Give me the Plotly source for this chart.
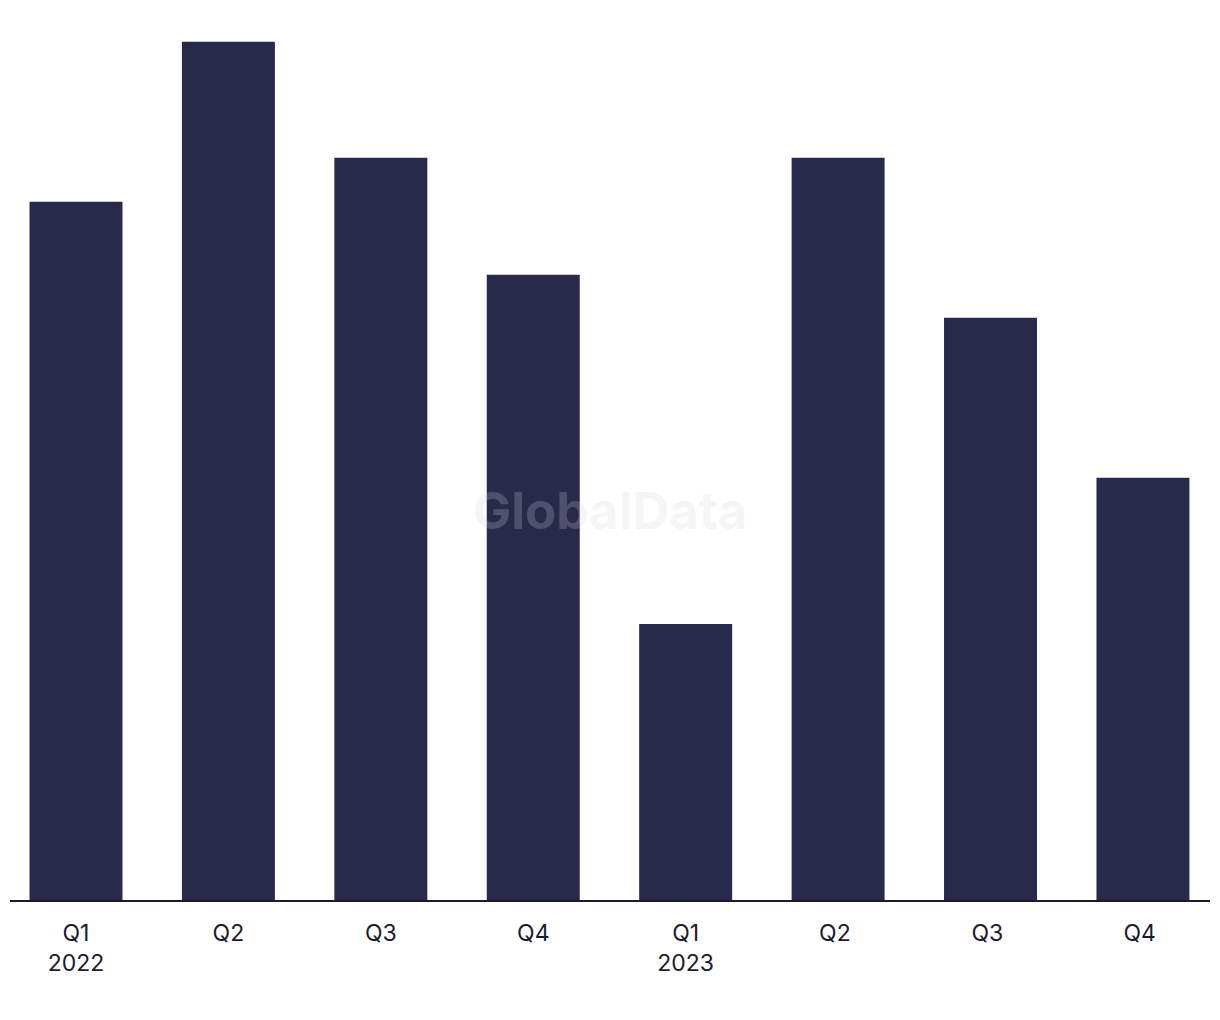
import plotly.graph_objects as go

quarters = ["Q1<br>2022", "Q2", "Q3", "Q4", "Q1<br>2023", "Q2 ", "Q3 ", "Q4 "]
values = [60.2, 74.0, 64.0, 53.9, 23.8, 64.0, 50.2, 36.4]

BAR = "#29294c"
INK = "#1b1b2f"

fig = go.Figure(
    go.Bar(x=list(range(len(quarters))), y=values, marker=dict(color=BAR, line=dict(width=0)),
           width=0.61, hoverinfo="skip")
)

fig.update_layout(
    width=1204, height=1004,
    margin=dict(l=2, r=2, t=0, b=112),
    paper_bgcolor="white", plot_bgcolor="white",
    showlegend=False,
    font=dict(family="Inter, 'Liberation Sans', sans-serif", color=INK, size=23),
    xaxis=dict(
        tickmode="array", tickvals=list(range(len(quarters))), ticktext=quarters,
        range=[-0.433, 7.44], showgrid=False, zeroline=False,
        showline=True, linecolor=INK, linewidth=2,
        ticks="outside", ticklen=11, tickcolor="rgba(0,0,0,0)",
        tickfont=dict(size=23, color=INK),
    ),
    yaxis=dict(range=[0, 76.9], visible=False, showgrid=False, zeroline=False),
    annotations=[dict(
        text="<b>GlobalData</b>", x=0.5, y=0.437, xref="paper", yref="paper",
        showarrow=False, font=dict(size=51, color="rgba(211,211,215,0.23)",
                                   family="Inter, 'Liberation Sans', sans-serif"),
    )],
)

fig.write_html("out.html")
